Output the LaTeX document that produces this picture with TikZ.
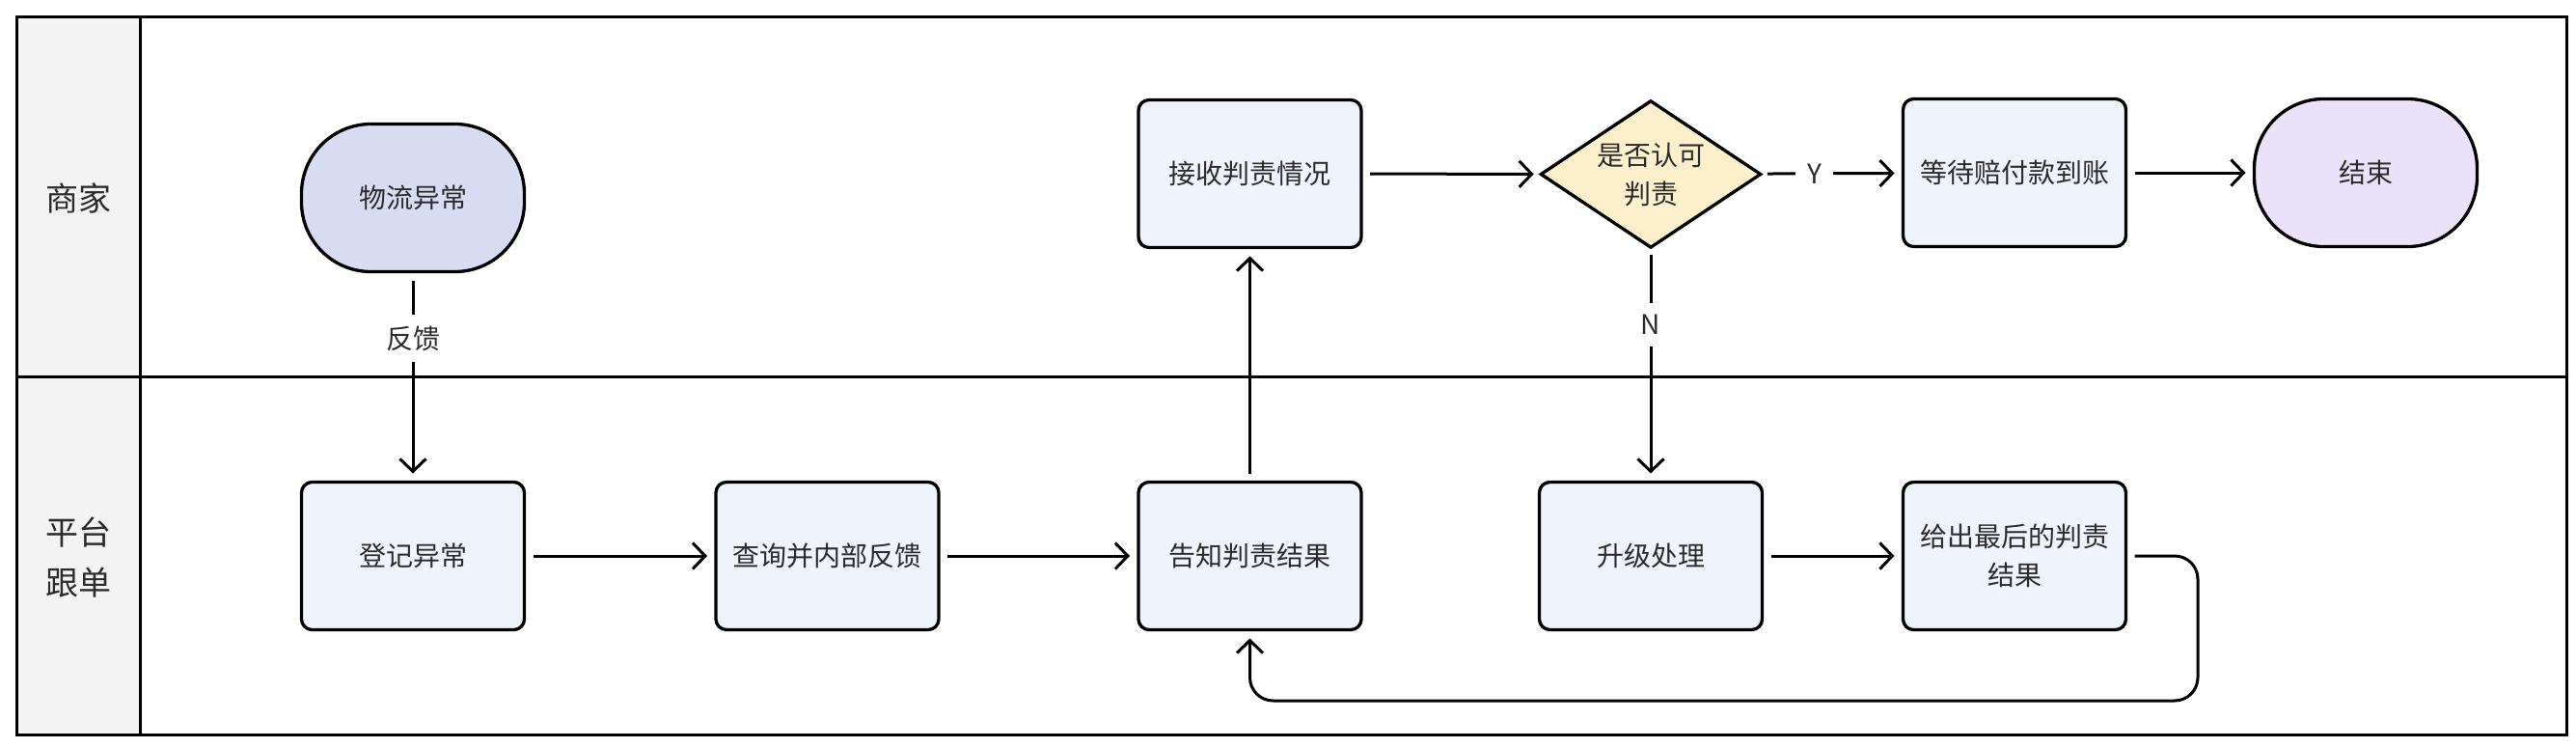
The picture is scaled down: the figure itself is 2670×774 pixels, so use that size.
\documentclass[tikz,border=0pt]{standalone}
\usepackage{fontspec}
\setmainfont{Noto Sans CJK SC}
\usetikzlibrary{shapes.geometric,arrows.meta,calc}
\definecolor{txt}{HTML}{2B2B2B}
\definecolor{termfill}{HTML}{D8DCF2}
\definecolor{boxfill}{HTML}{EEF3FC}
\definecolor{decfill}{HTML}{FCF0CC}
\definecolor{endfill}{HTML}{E9E2FA}
\definecolor{hdrfill}{HTML}{F3F3F3}
\begin{document}
\begin{tikzpicture}[x=1pt,y=-1pt,
  every node/.style={font=\fontsize{28}{40}\selectfont, text=txt},
  proc/.style={draw=black, line width=3.3pt, fill=boxfill, rounded corners=11pt,
    minimum width=231pt, minimum height=153pt, inner sep=0pt, outer sep=9pt, align=center},
  term/.style={proc, rounded corners=72pt},
  decision/.style={diamond, draw=black, line width=3.3pt, fill=decfill, minimum width=232pt,
    minimum height=156pt, aspect=1.48, inner sep=0pt, outer sep=5.5pt, align=center},
  arr/.style={draw=black, line width=3pt, -{Straight Barb[length=13pt,width=27pt,line width=3pt]}},
  lbl/.style={fill=white, inner sep=12pt},
  lanelabel/.style={font=\fontsize{34}{52}\selectfont, align=center}
]
\useasboundingbox (0,0) rectangle (2670,774);
% swimlane frame
\fill[white] (0,0) rectangle (2670,774);
\fill[hdrfill] (17,17) rectangle (145,761);
\draw[line width=3pt] (17,17) rectangle (2660,761);
\draw[line width=3pt] (145,17) -- (145,761);
\draw[line width=3pt] (17,390) -- (2660,390);
\node[lanelabel] (lane1) at (81,205) {商家};
\node[lanelabel] (lane2) at (81,578) {平台\\跟单};

% lane 1
\node[term, fill=termfill] (start) at (428,205) {物流异常};
\node[proc] (recv) at (1295.5,180) {接收判责情况};
\node[decision] (dec) at (1711,180.5) {是否认可\\判责};
\node[proc] (wait) at (2088,179) {等待赔付款到账};
\node[term, fill=endfill] (stop) at (2452,179) {结束};

% lane 2
\node[proc] (reg) at (428,576) {登记异常};
\node[proc] (query) at (857.5,576) {查询并内部反馈};
\node[proc] (tell) at (1295.5,576) {告知判责结果};
\node[proc] (upg) at (1711,576) {升级处理};
\node[proc] (give) at (2088,576) {给出最后的判责\\结果};

\coordinate (loopR) at (2278,726);

% connectors
\draw[arr] (start) -- node[lbl,pos=0.3] (fb) {反馈} (reg);
\draw[arr] (reg) -- (query);
\draw[arr] (query) -- (tell);
\draw[arr] (tell) -- (recv);
\draw[arr] (recv) -- (dec);
\draw[arr] (dec) -- node[lbl,pos=0.37] (ylab) {Y} (wait);
\draw[arr] (dec) -- node[lbl,pos=0.32] (nlab) {N} (upg);
\draw[arr] (upg) -- (give);
\draw[arr] (wait) -- (stop);
\draw[arr, rounded corners=24pt] (give.east) -| (loopR) -| (tell.south);
\end{tikzpicture}
\end{document}
